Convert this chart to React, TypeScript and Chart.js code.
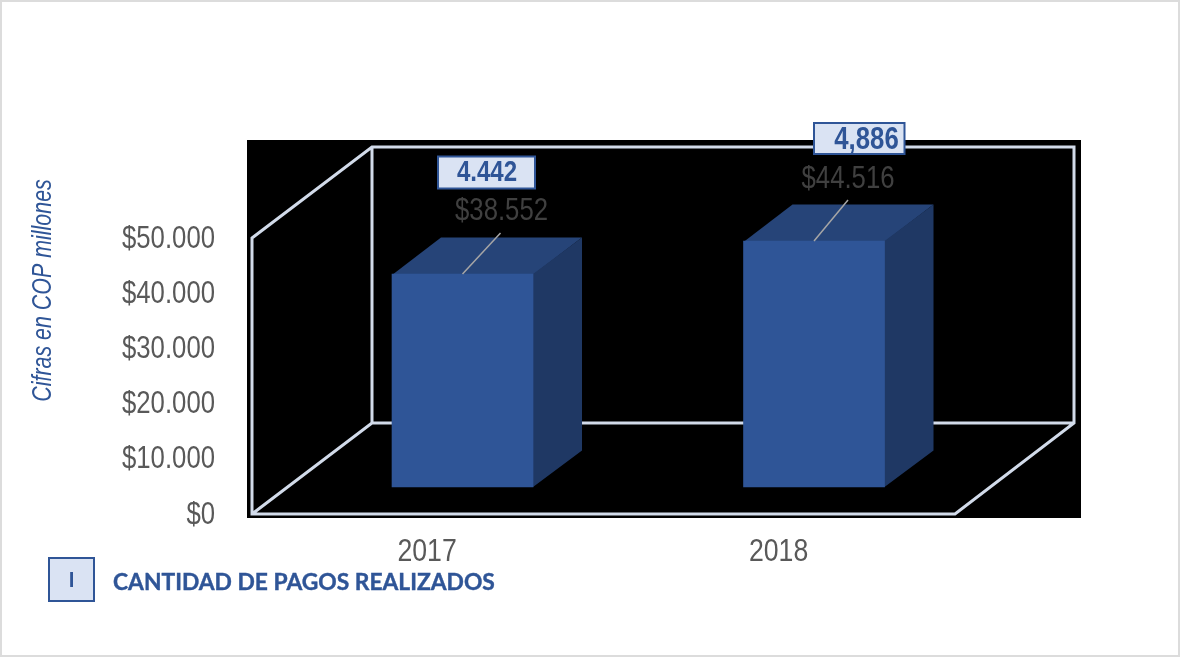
import React, { useEffect, useRef } from "react";
import { Chart, registerables } from "chart.js";

Chart.register(...registerables);

const years = ["2017", "2018"];
const pagos = [38552, 44516];
const cantidadLabels = ["4.442", "4,886"];
const axisTitle = "Cifras en COP millones";
const legendMark = "I";
const legendText = "CANTIDAD DE PAGOS REALIZADOS";

const SANS = '"Liberation Sans", sans-serif';
const SQUEEZE = 0.83;
const BLUE = "#2f5597";
const TOP = "#264478";
const SIDE = "#1f3864";
const WALL = "#d2dbea";
const DEPTH_X = 120;
const DEPTH_Y = 91;
const BAR_DX = 49;
const BAR_DY = 36.5;

const moneyLabel = (v: number) => "$" + String(v).replace(/\B(?=(\d{3})+(?!\d))/g, ".");

const leaderOffset = [
  { dx: 38, dy: -41, tx: 39, ty: -63 },
  { dx: 34, dy: -41, tx: 34, ty: -62 },
];
const countBoxes = [
  { l: 438, t: 156.5, w: 97, h: 32, tx: 487, ty: 173 },
  { l: 814, t: 123, w: 90.5, h: 31, tx: 866.5, ty: 140 },
];

function squeezed(ctx: any, text: string, x: number, y: number, align: string, sx = SQUEEZE) {
  ctx.save();
  ctx.translate(x, y);
  ctx.scale(sx, 1);
  ctx.textAlign = align;
  ctx.textBaseline = "middle";
  ctx.fillText(text, 0, 0);
  ctx.restore();
}

const scene = {
  id: "scene",
  beforeDraw(chart: any) {
    const { ctx, chartArea: a } = chart;
    ctx.save();
    ctx.fillStyle = "#ffffff";
    ctx.fillRect(0, 0, chart.width, chart.height);
    ctx.strokeStyle = "#dcdcdc";
    ctx.lineWidth = 2;
    ctx.strokeRect(1, 1, chart.width - 2, chart.height - 2);
    ctx.fillStyle = "#000000";
    ctx.fillRect(a.left - 5, a.top - 98, a.right - a.left + 131, a.bottom - a.top + 102);

    ctx.font = `31px ${SANS}`;
    ctx.fillStyle = "#595959";
    chart.scales.y.ticks.forEach((t: any, i: number) => {
      squeezed(ctx, String(t.label), 215, chart.scales.y.getPixelForTick(i) + 1, "right");
    });
    chart.scales.x.ticks.forEach((t: any, i: number) => {
      squeezed(ctx, String(t.label), chart.scales.x.getPixelForTick(i) - 0.7, 552.5, "center", 0.86);
    });
    ctx.restore();
  },
  beforeDatasetsDraw(chart: any) {
    const { ctx, chartArea: a } = chart;
    const y0 = chart.scales.y.getPixelForValue(0);
    const yTop = chart.scales.y.getPixelForValue(50000);
    ctx.save();
    ctx.strokeStyle = WALL;
    ctx.lineWidth = 3;
    ctx.lineJoin = "miter";
    ctx.beginPath();
    ctx.moveTo(a.left, yTop);
    ctx.lineTo(a.left + DEPTH_X, yTop - DEPTH_Y);
    ctx.lineTo(a.right + DEPTH_X - 1, yTop - DEPTH_Y);
    ctx.lineTo(a.right + DEPTH_X - 1, y0 - DEPTH_Y);
    ctx.lineTo(a.right, y0);
    ctx.lineTo(a.left, y0);
    ctx.closePath();
    ctx.moveTo(a.left, y0);
    ctx.lineTo(a.left + DEPTH_X, y0 - DEPTH_Y);
    ctx.lineTo(a.left + DEPTH_X, yTop - DEPTH_Y);
    ctx.moveTo(a.left + DEPTH_X, y0 - DEPTH_Y);
    ctx.lineTo(a.right + DEPTH_X - 1, y0 - DEPTH_Y);
    ctx.stroke();

    chart.getDatasetMeta(0).data.forEach((bar: any) => {
      const half = bar.width / 2;
      const l = bar.x - half;
      const r = bar.x + half;
      ctx.fillStyle = TOP;
      ctx.beginPath();
      ctx.moveTo(l, bar.y + 1);
      ctx.lineTo(l + BAR_DX, bar.y - BAR_DY);
      ctx.lineTo(r + BAR_DX, bar.y - BAR_DY);
      ctx.lineTo(r, bar.y + 1);
      ctx.closePath();
      ctx.fill();
      ctx.fillStyle = SIDE;
      ctx.beginPath();
      ctx.moveTo(r - 1, bar.y);
      ctx.lineTo(r, bar.y);
      ctx.lineTo(r + BAR_DX, bar.y - BAR_DY);
      ctx.lineTo(r + BAR_DX, bar.base - BAR_DY);
      ctx.lineTo(r, bar.base);
      ctx.lineTo(r - 1, bar.base);
      ctx.closePath();
      ctx.fill();
    });
    ctx.restore();
  },
  afterDatasetsDraw(chart: any) {
    const { ctx } = chart;
    ctx.save();
    chart.getDatasetMeta(0).data.forEach((bar: any, i: number) => {
      const o = leaderOffset[i];
      ctx.strokeStyle = "#a6a6a6";
      ctx.lineWidth = 1.5;
      ctx.beginPath();
      ctx.moveTo(bar.x, bar.y);
      ctx.lineTo(bar.x + o.dx, bar.y + o.dy);
      ctx.stroke();

      ctx.font = `31px ${SANS}`;
      ctx.fillStyle = "#404040";
      squeezed(ctx, moneyLabel(pagos[i]), bar.x + o.tx, bar.y + o.ty, "center");

      const b = countBoxes[i];
      ctx.fillStyle = "#dae3f3";
      ctx.fillRect(b.l, b.t, b.w, b.h);
      ctx.strokeStyle = BLUE;
      ctx.lineWidth = 2;
      ctx.strokeRect(b.l, b.t, b.w, b.h);
      ctx.font = `bold ${i === 0 ? 29 : 31}px ${SANS}`;
      ctx.fillStyle = BLUE;
      squeezed(ctx, cantidadLabels[i], b.tx, b.ty, "center");
    });

    ctx.save();
    ctx.translate(43.5, 290.5);
    ctx.rotate(-Math.PI / 2);
    ctx.font = `italic 28px ${SANS}`;
    ctx.fillStyle = BLUE;
    squeezed(ctx, axisTitle, 0, 0, "center", 0.765);
    ctx.restore();

    ctx.fillStyle = "#dae3f3";
    ctx.fillRect(49, 558, 45, 43);
    ctx.strokeStyle = BLUE;
    ctx.lineWidth = 2;
    ctx.strokeRect(49, 558, 45, 43);
    ctx.fillStyle = BLUE;
    ctx.textAlign = "center";
    ctx.textBaseline = "middle";
    ctx.font = "bold 21px Lato";
    ctx.fillText(legendMark, 71.5, 580);
    ctx.textAlign = "left";
    ctx.font = "bold 22.8px Lato";
    ctx.fillText(legendText, 113, 583);
    ctx.strokeStyle = BLUE;
    ctx.lineWidth = 0.4;
    ctx.strokeText(legendText, 113, 583);
    ctx.restore();
  },
};

export default function App() {
  const ref = useRef<HTMLCanvasElement>(null);

  useEffect(() => {
    document.body.style.margin = "0";
    const chart = new Chart(ref.current as HTMLCanvasElement, {
      type: "bar",
      data: {
        labels: years,
        datasets: [
          {
            label: "Pagos",
            data: years.map((_, i) => ({ x: i, y: pagos[i] })),
            xAxisID: "xBar",
            yAxisID: "yBar",
            backgroundColor: BLUE,
            borderWidth: 0,
            barThickness: 141,
          } as any,
        ],
      },
      options: {
        animation: false,
        responsive: false,
        maintainAspectRatio: false,
        layout: { padding: { left: 0, top: 238, right: 225, bottom: 0 } },
        plugins: { legend: { display: false }, tooltip: { enabled: false } },
        scales: {
          x: {
            type: "category",
            offset: true,
            grid: { display: false },
            border: { display: false },
            afterFit: (s: any) => {
              s.height = 143;
            },
            ticks: { display: false },
          },
          y: {
            min: 0,
            max: 50000,
            grid: { display: false },
            border: { display: false },
            afterFit: (s: any) => {
              s.width = 252;
            },
            ticks: {
              display: false,
              stepSize: 10000,
              callback: (v: any) => moneyLabel(Number(v)),
            },
          },
          xBar: { type: "linear", display: false, offset: false, min: -0.5989, max: 1.4011 },
          yBar: { type: "linear", display: false, min: -4887, max: 45068 },
        },
      },
      plugins: [scene],
    } as any);
    return () => chart.destroy();
  }, []);

  return (
    <div style={{ position: "absolute", left: 0, top: 0, width: 1180, height: 657 }}>
      <canvas ref={ref} width={1180} height={657} style={{ display: "block" }} />
    </div>
  );
}
